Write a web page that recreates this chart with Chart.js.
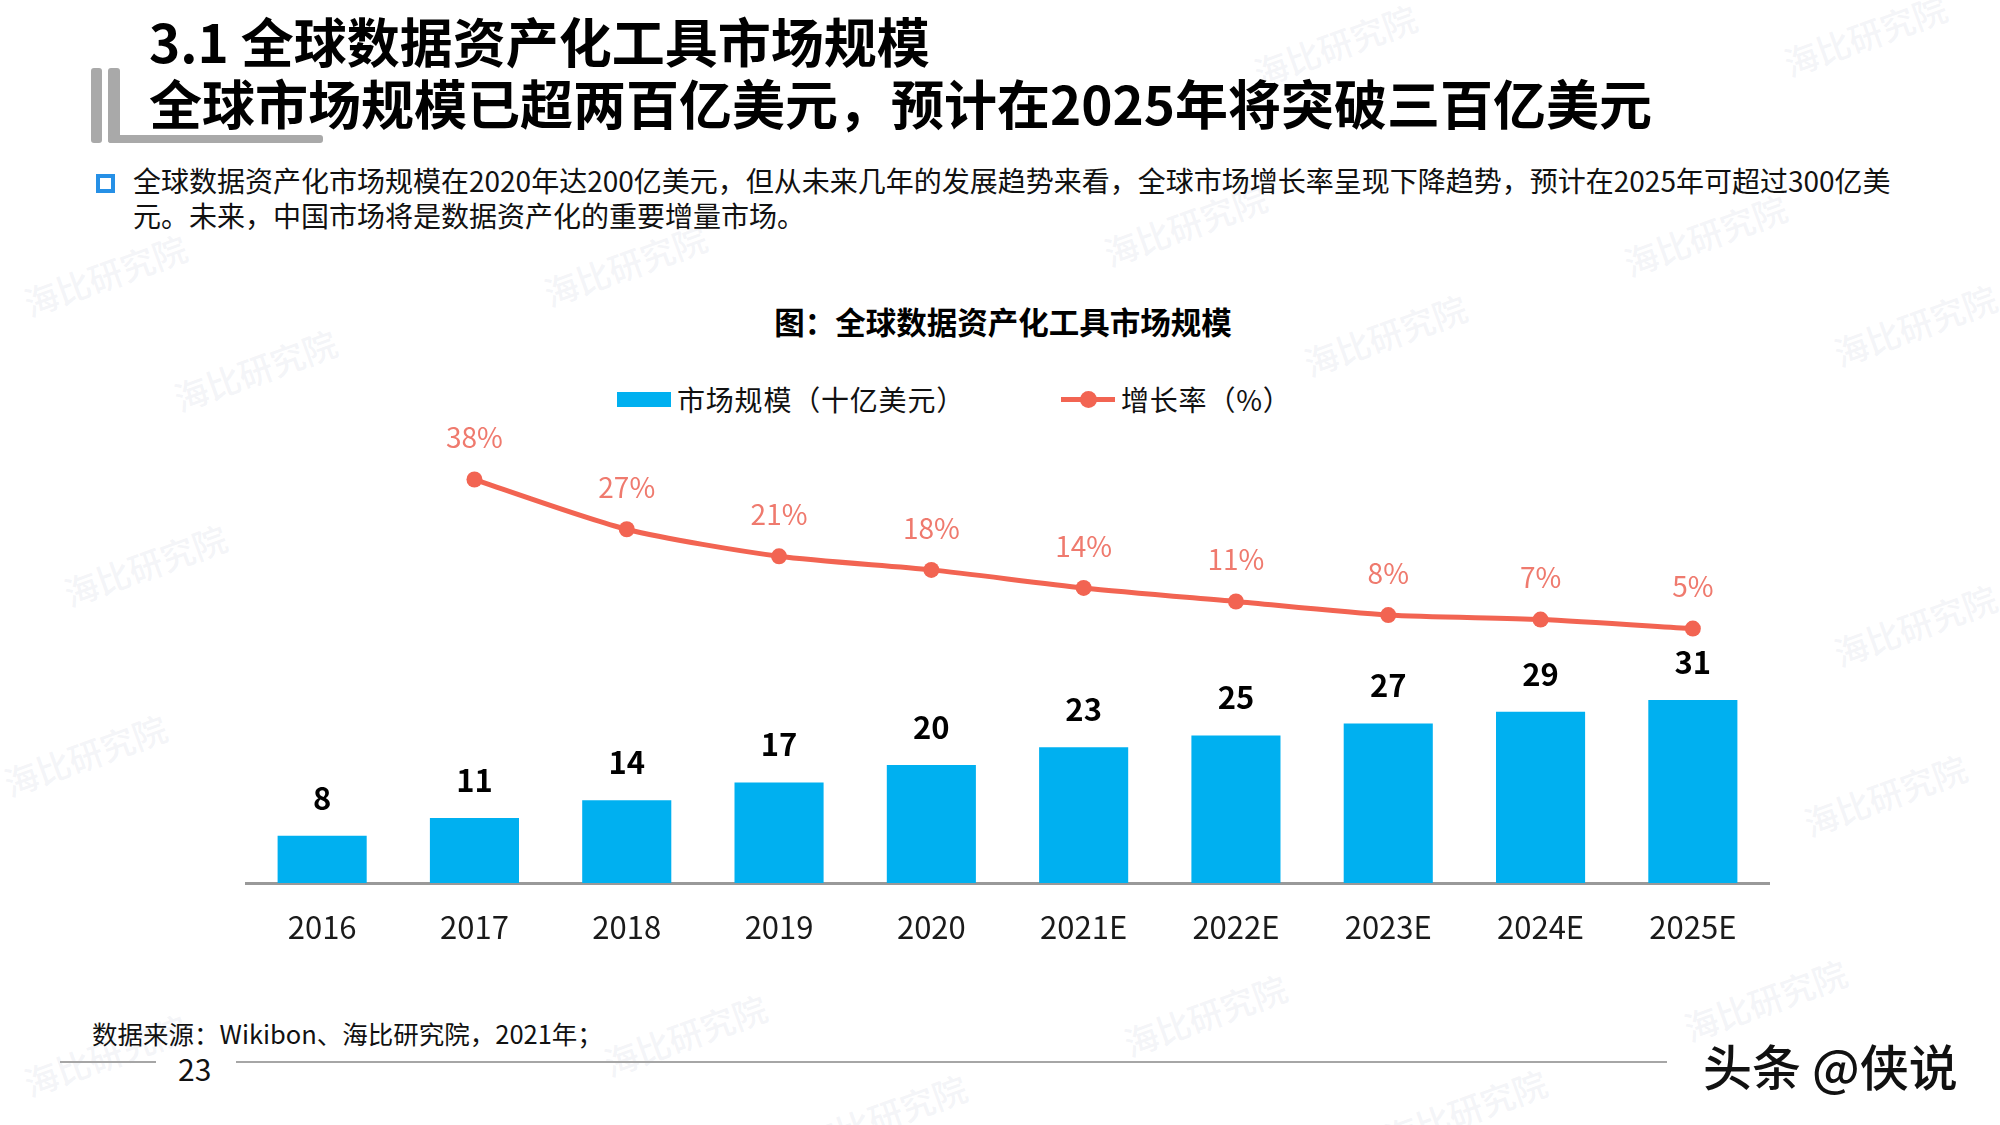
<!DOCTYPE html>
<html lang="zh-CN">
<head>
<meta charset="utf-8">
<title>全球数据资产化工具市场规模</title>
<script src="https://cdn.jsdelivr.net/npm/chart.js@4.4.1/dist/chart.umd.min.js"></script>
<style>
  html, body { margin: 0; padding: 0; background: #fff; }
  body { width: 2000px; height: 1125px; position: relative; overflow: hidden;
         font-family: "Noto Sans CJK SC", "Noto Sans", sans-serif; color: #000; }
  .abs { position: absolute; white-space: nowrap; }
  .wm { position: absolute; font-size: 34px; color: rgba(170,180,200,0.14); transform: rotate(-20deg);
        white-space: nowrap; font-weight: 500; }
  .h1 { left: 149px; font-size: 53px; font-weight: 700; line-height: 1; }
  .bar { position: absolute; background: #a9a9a9; border-radius: 3px; }
  .para { left: 133px; top: 163px; font-size: 28px; line-height: 35px; color: #111; }
  .bullet { left: 96px; top: 174px; width: 11px; height: 11px; border: 4px solid #2690e6; }
  .legend { top: 380px; font-size: 28px; line-height: 38px; letter-spacing: 0.8px; color: #111; }
  .hr { position: absolute; height: 2px; background: #a6a6a6; top: 1061px; }
  #chart { position: absolute; left: 0; top: 0; }
</style>
</head>
<body>
<!-- faint background watermarks -->
<div class="wm" style="left:1250px;top:20px">海比研究院</div>
<div class="wm" style="left:1780px;top:10px">海比研究院</div>
<div class="wm" style="left:20px;top:250px">海比研究院</div>
<div class="wm" style="left:540px;top:240px">海比研究院</div>
<div class="wm" style="left:1100px;top:200px">海比研究院</div>
<div class="wm" style="left:1620px;top:210px">海比研究院</div>
<div class="wm" style="left:170px;top:345px">海比研究院</div>
<div class="wm" style="left:1300px;top:310px">海比研究院</div>
<div class="wm" style="left:1830px;top:300px">海比研究院</div>
<div class="wm" style="left:60px;top:540px">海比研究院</div>
<div class="wm" style="left:1830px;top:600px">海比研究院</div>
<div class="wm" style="left:0px;top:730px">海比研究院</div>
<div class="wm" style="left:1800px;top:770px">海比研究院</div>
<div class="wm" style="left:20px;top:1030px">海比研究院</div>
<div class="wm" style="left:600px;top:1010px">海比研究院</div>
<div class="wm" style="left:1120px;top:990px">海比研究院</div>
<div class="wm" style="left:1680px;top:975px">海比研究院</div>
<div class="wm" style="left:800px;top:1090px">海比研究院</div>
<div class="wm" style="left:1380px;top:1085px">海比研究院</div>

<!-- header -->
<div class="bar" style="left:91px;top:68px;width:11px;height:75px"></div>
<div class="bar" style="left:108px;top:68px;width:12px;height:75px"></div>
<div class="bar" style="left:108px;top:135px;width:215px;height:8px"></div>
<div class="abs h1" style="top:14px">3.1 全球数据资产化工具市场规模</div>
<div class="abs h1" style="top:76px">全球市场规模已超两百亿美元，预计在2025年将突破三百亿美元</div>

<div class="abs bullet"></div>
<div class="abs para">全球数据资产化市场规模在2020年达200亿美元，但从未来几年的发展趋势来看，全球市场增长率呈现下降趋势，预计在2025年可超过300亿美<br>元。未来，中国市场将是数据资产化的重要增量市场。</div>

<!-- chart title and legend -->
<div class="abs" style="left:0;width:2006px;text-align:center;top:299px;font-size:30.5px;font-weight:700;">图：全球数据资产化工具市场规模</div>
<div class="abs" style="left:617px;top:392px;width:54px;height:15px;background:#00b0f0"></div>
<div class="abs legend" style="left:677px">市场规模（十亿美元）</div>
<div class="abs" style="left:1061px;top:397px;width:54px;height:5px;background:#f26452"></div>
<div class="abs" style="left:1080px;top:391px;width:17px;height:17px;border-radius:50%;background:#f26452"></div>
<div class="abs legend" style="left:1121px">增长率（%）</div>

<!-- footer -->
<div class="abs" style="left:92px;top:1014px;font-size:25.5px;color:#111;">数据来源：Wikibon、海比研究院，2021年；</div>
<div class="hr" style="left:60px;width:96px"></div>
<div class="hr" style="left:236px;width:1431px"></div>
<div class="abs" style="left:178px;top:1046px;font-size:30px;color:#111;">23</div>
<div class="abs" style="left:1703px;top:1029px;font-size:49px;font-weight:500;color:#111;
  text-shadow:0 0 3px #fff,0 0 3px #fff,1px 1px 0 #fff;">头条 @侠说</div>

<canvas id="chart" width="2000" height="1125"></canvas>

<script>
// chart data
const years = ['2016', '2017', '2018', '2019', '2020', '2021E', '2022E', '2023E', '2024E', '2025E'];
const marketSize = [8, 11, 14, 17, 20, 23, 25, 27, 29, 31];      // 十亿美元
const growthRate = [null, 38, 27, 21, 18, 14, 11, 8, 7, 5];      // %

const FONT = '"Noto Sans CJK SC", "Noto Sans", sans-serif';
const BAR_COLOR = '#00b0f0';
const LINE_COLOR = '#f26452';
const RATE_LABEL_COLOR = '#ef7a6e';

// value labels above bars and line points
const valueLabels = {
  id: 'valueLabels',
  afterDatasetsDraw(chart) {
    const ctx = chart.ctx;
    ctx.save();
    ctx.textAlign = 'center';
    ctx.textBaseline = 'middle';
    chart.data.datasets.forEach((ds, i) => {
      const meta = chart.getDatasetMeta(i);
      meta.data.forEach((el, j) => {
        const v = ds.data[j];
        if (v == null) return;
        if (ds.type === 'bar') {
          ctx.font = `700 31px ${FONT}`;
          ctx.fillStyle = '#000';
          ctx.fillText(String(v), el.x, el.y - 38);
        } else {
          ctx.font = `400 28px ${FONT}`;
          ctx.fillStyle = RATE_LABEL_COLOR;
          ctx.fillText(v + '%', el.x, el.y - 42);
        }
      });
    });
    ctx.restore();
  }
};

new Chart(document.getElementById('chart'), {
  data: {
    labels: years,
    datasets: [
      {
        type: 'line',
        label: '增长率（%）',
        data: growthRate,
        yAxisID: 'y1',
        borderColor: LINE_COLOR,
        backgroundColor: LINE_COLOR,
        borderWidth: 5,
        pointRadius: 8,
        pointBackgroundColor: LINE_COLOR,
        pointBorderWidth: 0,
        tension: 0.25,
        spanGaps: false,
        order: 0
      },
      {
        type: 'bar',
        label: '市场规模（十亿美元）',
        data: marketSize,
        yAxisID: 'y',
        backgroundColor: BAR_COLOR,
        barPercentage: 0.585,
        categoryPercentage: 1,
        order: 1
      }
    ]
  },
  options: {
    responsive: false,
    animation: false,
    layout: { padding: { left: 246, right: 231, top: 400, bottom: 182 } },
    plugins: { legend: { display: false }, tooltip: { enabled: false } },
    scales: {
      x: {
        z: 1,
        grid: { display: false, drawTicks: false },
        border: { display: true, color: '#999', width: 3 },
        ticks: { color: '#1a1a1a', font: { family: FONT, size: 31 }, padding: 26, maxRotation: 0 },
        afterFit(scale) { scale.height = 60; }
      },
      y: { display: false, min: 0, max: 81.8 },
      y1: { display: false, min: -51.3, max: 55.6 }
    }
  },
  plugins: [valueLabels]
});
</script>
</body>
</html>
